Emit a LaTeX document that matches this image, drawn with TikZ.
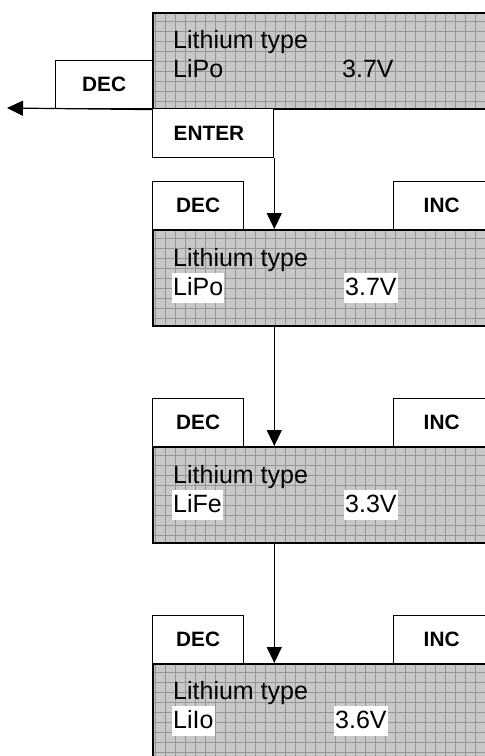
\documentclass[tikz,border=0pt]{standalone}
\usepackage{fontspec}
\setmainfont{Liberation Sans}
\usetikzlibrary{positioning,calc,arrows.meta}
\definecolor{lcdfill}{HTML}{C8C8C8}
\definecolor{lcdgrid}{HTML}{969696}

\begin{document}
\begin{tikzpicture}[x=1pt,y=-1pt,
    screen/.style={draw, line width=1.6pt, fill=lcdfill, anchor=north west,
        inner sep=0pt, minimum width=345pt, minimum height=96pt,
        path picture={\draw[lcdgrid, line width=0.5pt, step=10pt]
            (path picture bounding box.south west) grid (path picture bounding box.north east);}},
    btn/.style={draw, line width=1.3pt, fill=white, anchor=north west, inner sep=0pt,
        minimum height=48pt, font=\fontsize{20.8}{24}\selectfont\bfseries},
    lcdtext/.style={anchor=base west, inner sep=0pt, font=\fontsize{25}{30}\selectfont},
    lcdval/.style={lcdtext, fill=white, inner xsep=1pt, inner ysep=3pt,
        text height=19pt, text depth=5pt},
    flow/.style={line width=1.2pt, -{Triangle[length=16pt,width=15pt]}}]
    \useasboundingbox (0,0) rectangle (485,756);
    \clip (0,0) rectangle (485,756);

    % Hauptanzeige
    \node[screen] (lcdA) at (152,12) {};
    \node[lcdtext] (titleA) at (173,48) {Lithium type};
    \node[lcdtext] (typeA) at (173,77) {LiPo};
    \node[lcdtext] (voltA) at (342,77) {3.7V};
    \node[btn, minimum width=97pt] (decA) at (55,60) {DEC};
    \node[btn, minimum height=49pt, text width=79pt, inner xsep=21pt, align=left] (enter) at (152,108) {ENTER};
    \coordinate (exitpt) at (7,108);
    \draw[flow] (lcdA.south west) -- (exitpt);

    % Auswahl LiPo
    \node[screen] (lcdB) at (152,229) {};
    \node[lcdtext] (titleB) at (173,266) {Lithium type};
    \node[lcdval] (typeB) at (172,295) {LiPo};
    \node[lcdval] (voltB) at (344,295) {3.7V};
    \node[btn, minimum width=91pt] (decB) at (152,181) {DEC};
    \node[btn, minimum width=96pt] (incB) at (393,181) {INC};
    \draw[flow] (enter.south east) -- (enter.south east |- lcdB.north);

    % Auswahl LiFe
    \node[screen] (lcdC) at (152,446) {};
    \node[lcdtext] (titleC) at (173,483) {Lithium type};
    \node[lcdval] (typeC) at (172,512) {LiFe};
    \node[lcdval] (voltC) at (344,512) {3.3V};
    \node[btn, minimum width=91pt] (decC) at (152,398) {DEC};
    \node[btn, minimum width=96pt] (incC) at (393,398) {INC};
    \draw[flow] (lcdB.south -| enter.east) -- (lcdC.north -| enter.east);

    % Auswahl LiIo
    \node[screen] (lcdD) at (152,663) {};
    \node[lcdtext] (titleD) at (173,699) {Lithium type};
    \node[lcdval] (typeD) at (172,728) {LiIo};
    \node[lcdval] (voltD) at (334,728) {3.6V};
    \node[btn, minimum width=91pt] (decD) at (152,615) {DEC};
    \node[btn, minimum width=96pt] (incD) at (393,615) {INC};
    \draw[flow] (lcdC.south -| enter.east) -- (lcdD.north -| enter.east);
\end{tikzpicture}
\end{document}
